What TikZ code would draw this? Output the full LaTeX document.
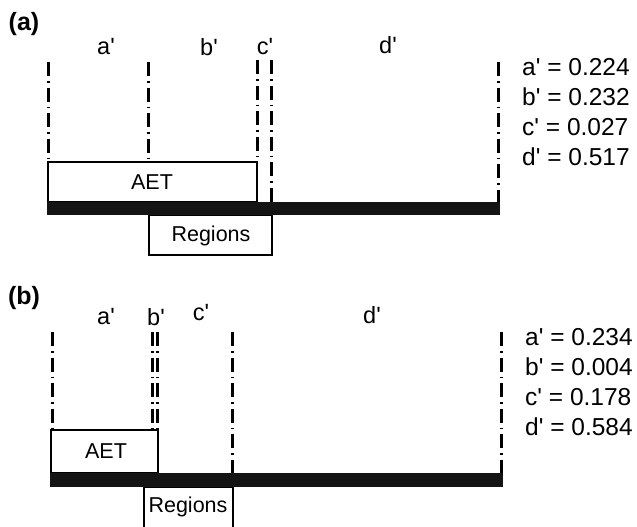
\documentclass[tikz,border=0pt]{standalone}
\usepackage{fontspec}
\setmainfont{Liberation Sans}[Ligatures=TeXOff]
\begin{document}
\begin{tikzpicture}[x=1pt,y=-1pt,
  panel/.style={font=\fontsize{25}{29}\selectfont\bfseries},
  seglabel/.style={font=\fontsize{23.5}{28}\selectfont},
  valtext/.style={font=\fontsize{24.5}{29}\selectfont, anchor=west, inner sep=0pt},
  boxlabel/.style={font=\fontsize{21.5}{25}\selectfont},
  mark line/.style={line width=3pt, dash pattern=on 14pt off 5pt on 1.5pt off 5pt},
  outline/.style={draw, line width=2.5pt},
  bar/.style={fill=black!92}
]
\useasboundingbox (0,0) rectangle (637,527);

% ---------- panel (a) ----------
\node[panel] (pa) at (24,24) {(a)};
\node[seglabel] (la) at (106,47) {a'};
\node[seglabel] (lb) at (209,47) {b'};
\node[seglabel] (lc) at (265,47) {c'};
\node[seglabel] (ld) at (388,45) {d'};

\draw[mark line] (48,62) -- (48,162);
\draw[mark line] (148,62) -- (148,162);
\draw[mark line] (257,60) -- (257,162);
\draw[mark line] (271,60) -- (271,202);
\draw[mark line] (498,62) -- (498,202);

\draw[outline] (48,162) rectangle (257,202);
\node[boxlabel] (aetA) at (152,182) {AET};
\draw[outline] (149,215) rectangle (272,255);
\node[boxlabel] (regA) at (211,236) {Regions};
\fill[bar] (47,202) rectangle (500,215);

\node[valtext] (va1) at (522,67) {a' = 0.224};
\node[valtext] (va2) at (522,97) {b' = 0.232};
\node[valtext] (va3) at (522,127) {c' = 0.027};
\node[valtext] (va4) at (522,157) {d' = 0.517};

% ---------- panel (b) ----------
\node[panel] (pb) at (24,298) {(b)};
\node[seglabel] (ma) at (106,317) {a'};
\node[seglabel] (mb) at (156,317) {b'};
\node[seglabel] (mc) at (201,313) {c'};
\node[seglabel] (md) at (372,315) {d'};

\draw[mark line] (52,332) -- (52,430);
\draw[mark line] (152,332) -- (152,430);
\draw[mark line] (157,332) -- (157,430);
\draw[mark line] (232,332) -- (232,473);
\draw[mark line] (501,332) -- (501,473);

\draw[outline] (51,430) rectangle (158,473);
\node[boxlabel] (aetB) at (106,451) {AET};
\draw[outline] (144,487) rectangle (233,528);
\node[boxlabel] (regB) at (188,507) {Regions};
\fill[bar] (50,473) rectangle (503,487);

\node[valtext] (vb1) at (525,337) {a' = 0.234};
\node[valtext] (vb2) at (525,367) {b' = 0.004};
\node[valtext] (vb3) at (525,397) {c' = 0.178};
\node[valtext] (vb4) at (525,427) {d' = 0.584};
\end{tikzpicture}
\end{document}
